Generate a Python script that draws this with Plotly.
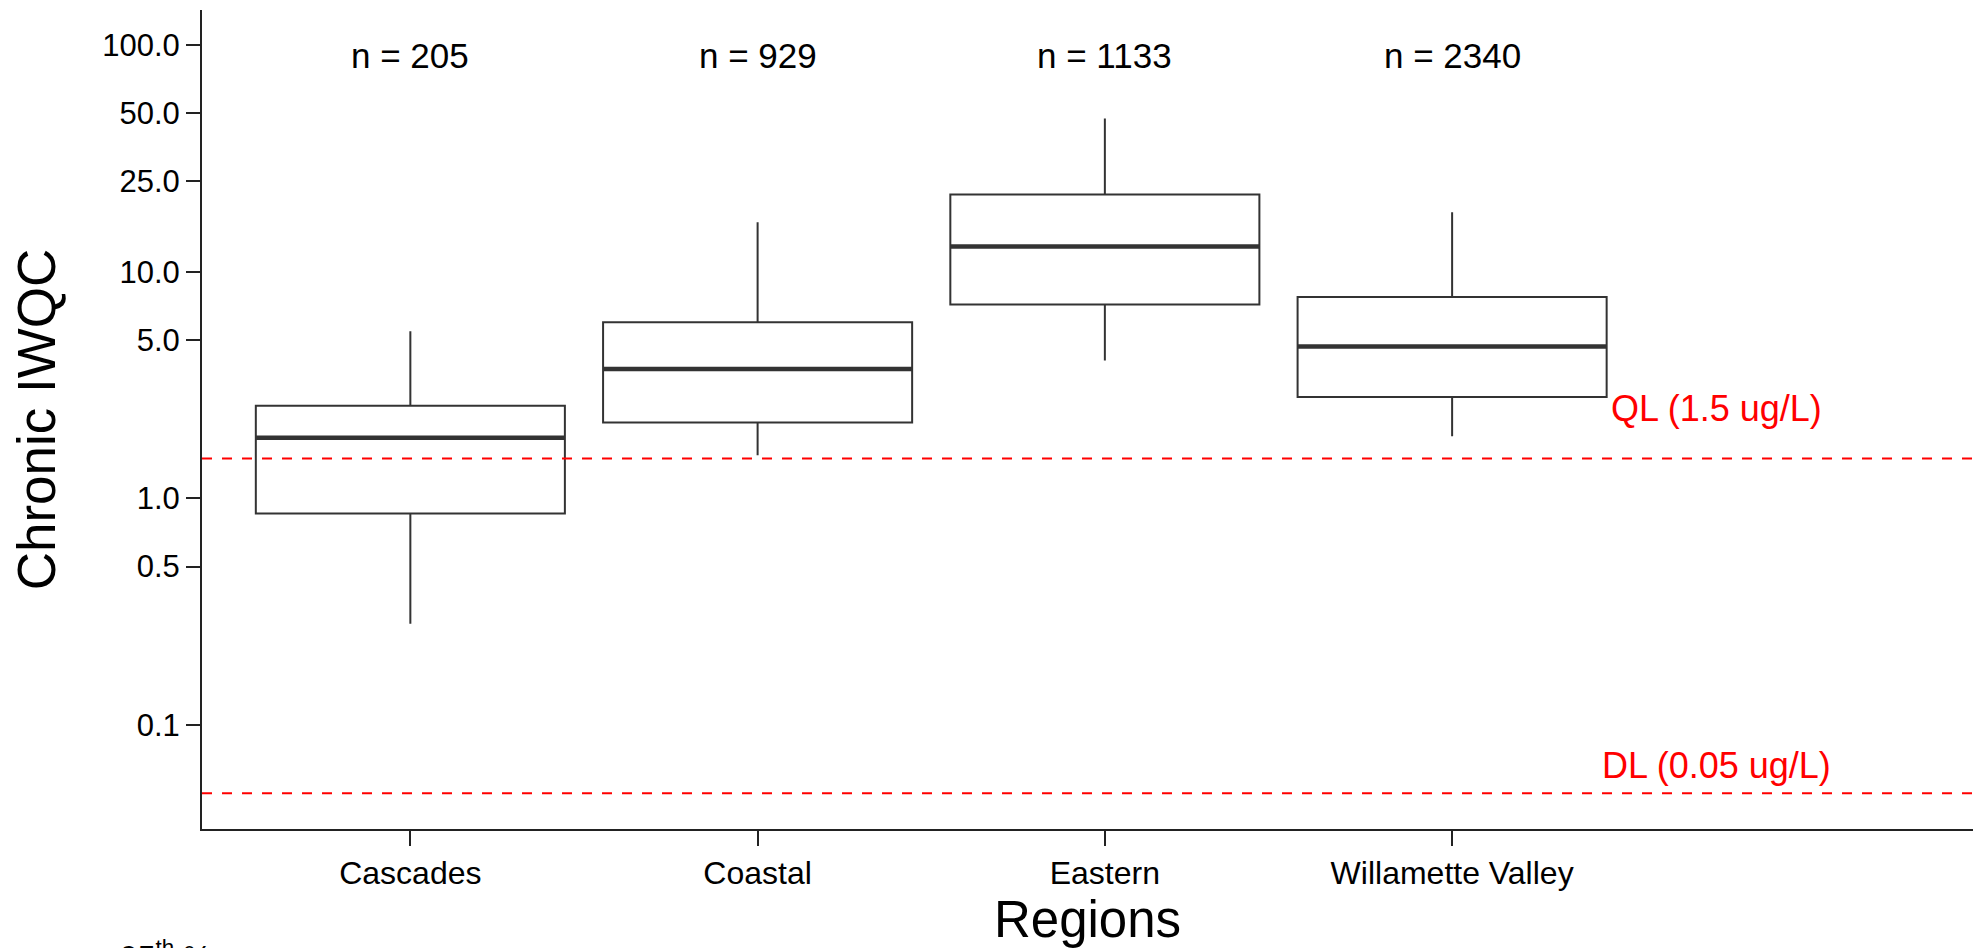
import plotly.graph_objects as go
import numpy as np

# ---- data ----
regions = ["Cascades", "Coastal", "Eastern", "Willamette Valley"]
counts = [205, 929, 1133, 2340]
lower_whisker = [0.28, 1.55, 4.06, 1.88]
q1_vals = [0.857, 2.16, 7.16, 2.80]
median_vals = [1.85, 3.72, 12.9, 4.68]
q3_vals = [2.56, 5.98, 21.9, 7.73]
upper_whisker = [5.46, 16.5, 47.4, 18.3]

ref_values = [1.5, 0.05]
ref_labels = ["QL (1.5 ug/L)", "DL (0.05 ug/L)"]

ytick_vals = [0.1, 0.5, 1.0, 5.0, 10.0, 25.0, 50.0, 100.0]
ytick_text = ["0.1", "0.5", "1.0", "5.0", "10.0", "25.0", "50.0", "100.0"]

# ---- styling ----
FONT = "Liberation Sans, Arial, sans-serif"
BOX_COLOR = "#333333"
box_width = 0.89
x_range = [-0.6, 4.5]
y_range = [-1.4588, 2.1544]

xpos = list(range(len(regions)))

fig = go.Figure()

fig.add_trace(go.Box(
    x=xpos,
    q1=q1_vals,
    median=median_vals,
    q3=q3_vals,
    lowerfence=lower_whisker,
    upperfence=upper_whisker,
    width=box_width,
    whiskerwidth=0,
    boxpoints=False,
    fillcolor="rgba(0,0,0,0)",
    line=dict(color=BOX_COLOR, width=2),
    showlegend=False,
))

# thick median bars
mx, my = [], []
for x, m in zip(xpos, median_vals):
    mx += [x - box_width / 2, x + box_width / 2, None]
    my += [m, m, None]
fig.add_trace(go.Scatter(
    x=mx, y=my, mode="lines",
    line=dict(color=BOX_COLOR, width=4.5),
    showlegend=False, hoverinfo="skip",
))

# reference lines
for v in ref_values:
    fig.add_trace(go.Scatter(
        x=x_range, y=[v, v], mode="lines",
        line=dict(color="red", width=2, dash="10px,10px"),
        showlegend=False, hoverinfo="skip",
    ))

# n labels
for x, n in zip(xpos, counts):
    fig.add_annotation(
        x=x, xref="x", y=0.945, yref="paper",
        text=f"n = {n}", showarrow=False,
        font=dict(family=FONT, size=35, color="black"),
        xanchor="center", yanchor="middle",
    )

# reference labels
ref_label_y = [0.514, 0.077]
for lab, yy in zip(ref_labels, ref_label_y):
    fig.add_annotation(
        x=0.855, xref="paper", y=yy, yref="paper",
        text=lab, showarrow=False,
        font=dict(family=FONT, size=36, color="red"),
        xanchor="center", yanchor="middle",
    )

# cut-off legend text at bottom-left
fig.add_annotation(
    x=-0.0474, xref="paper", y=-0.127, yref="paper",
    text="95<sup>th</sup> %", showarrow=False,
    font=dict(family=FONT, size=32, color="black"),
    xanchor="left", yanchor="top",
)

fig.update_layout(
    width=1981, height=948,
    margin=dict(l=202, r=8, t=10, b=119),
    paper_bgcolor="white", plot_bgcolor="white",
    font=dict(family=FONT, color="black"),
    xaxis=dict(
        range=x_range,
        tickmode="array", tickvals=xpos, ticktext=regions,
        ticks="outside", ticklen=15, tickwidth=2, tickcolor="#222222",
        showline=True, linecolor="#222222", linewidth=2,
        showgrid=False, zeroline=False,
        tickfont=dict(family=FONT, size=32, color="black"),
        title=dict(text="Regions", font=dict(family=FONT, size=51, color="black"), standoff=4),
    ),
    yaxis=dict(
        type="log", range=y_range,
        tickmode="array", tickvals=ytick_vals, ticktext=ytick_text,
        ticks="outside", ticklen=14, tickwidth=2, tickcolor="#222222",
        showline=True, linecolor="#222222", linewidth=2,
        showgrid=False, zeroline=False,
        tickfont=dict(family=FONT, size=31, color="black"),
        title=dict(text="Chronic IWQC", font=dict(family=FONT, size=53, color="black"), standoff=30),
    ),
)

fig.write_html("out.html")
